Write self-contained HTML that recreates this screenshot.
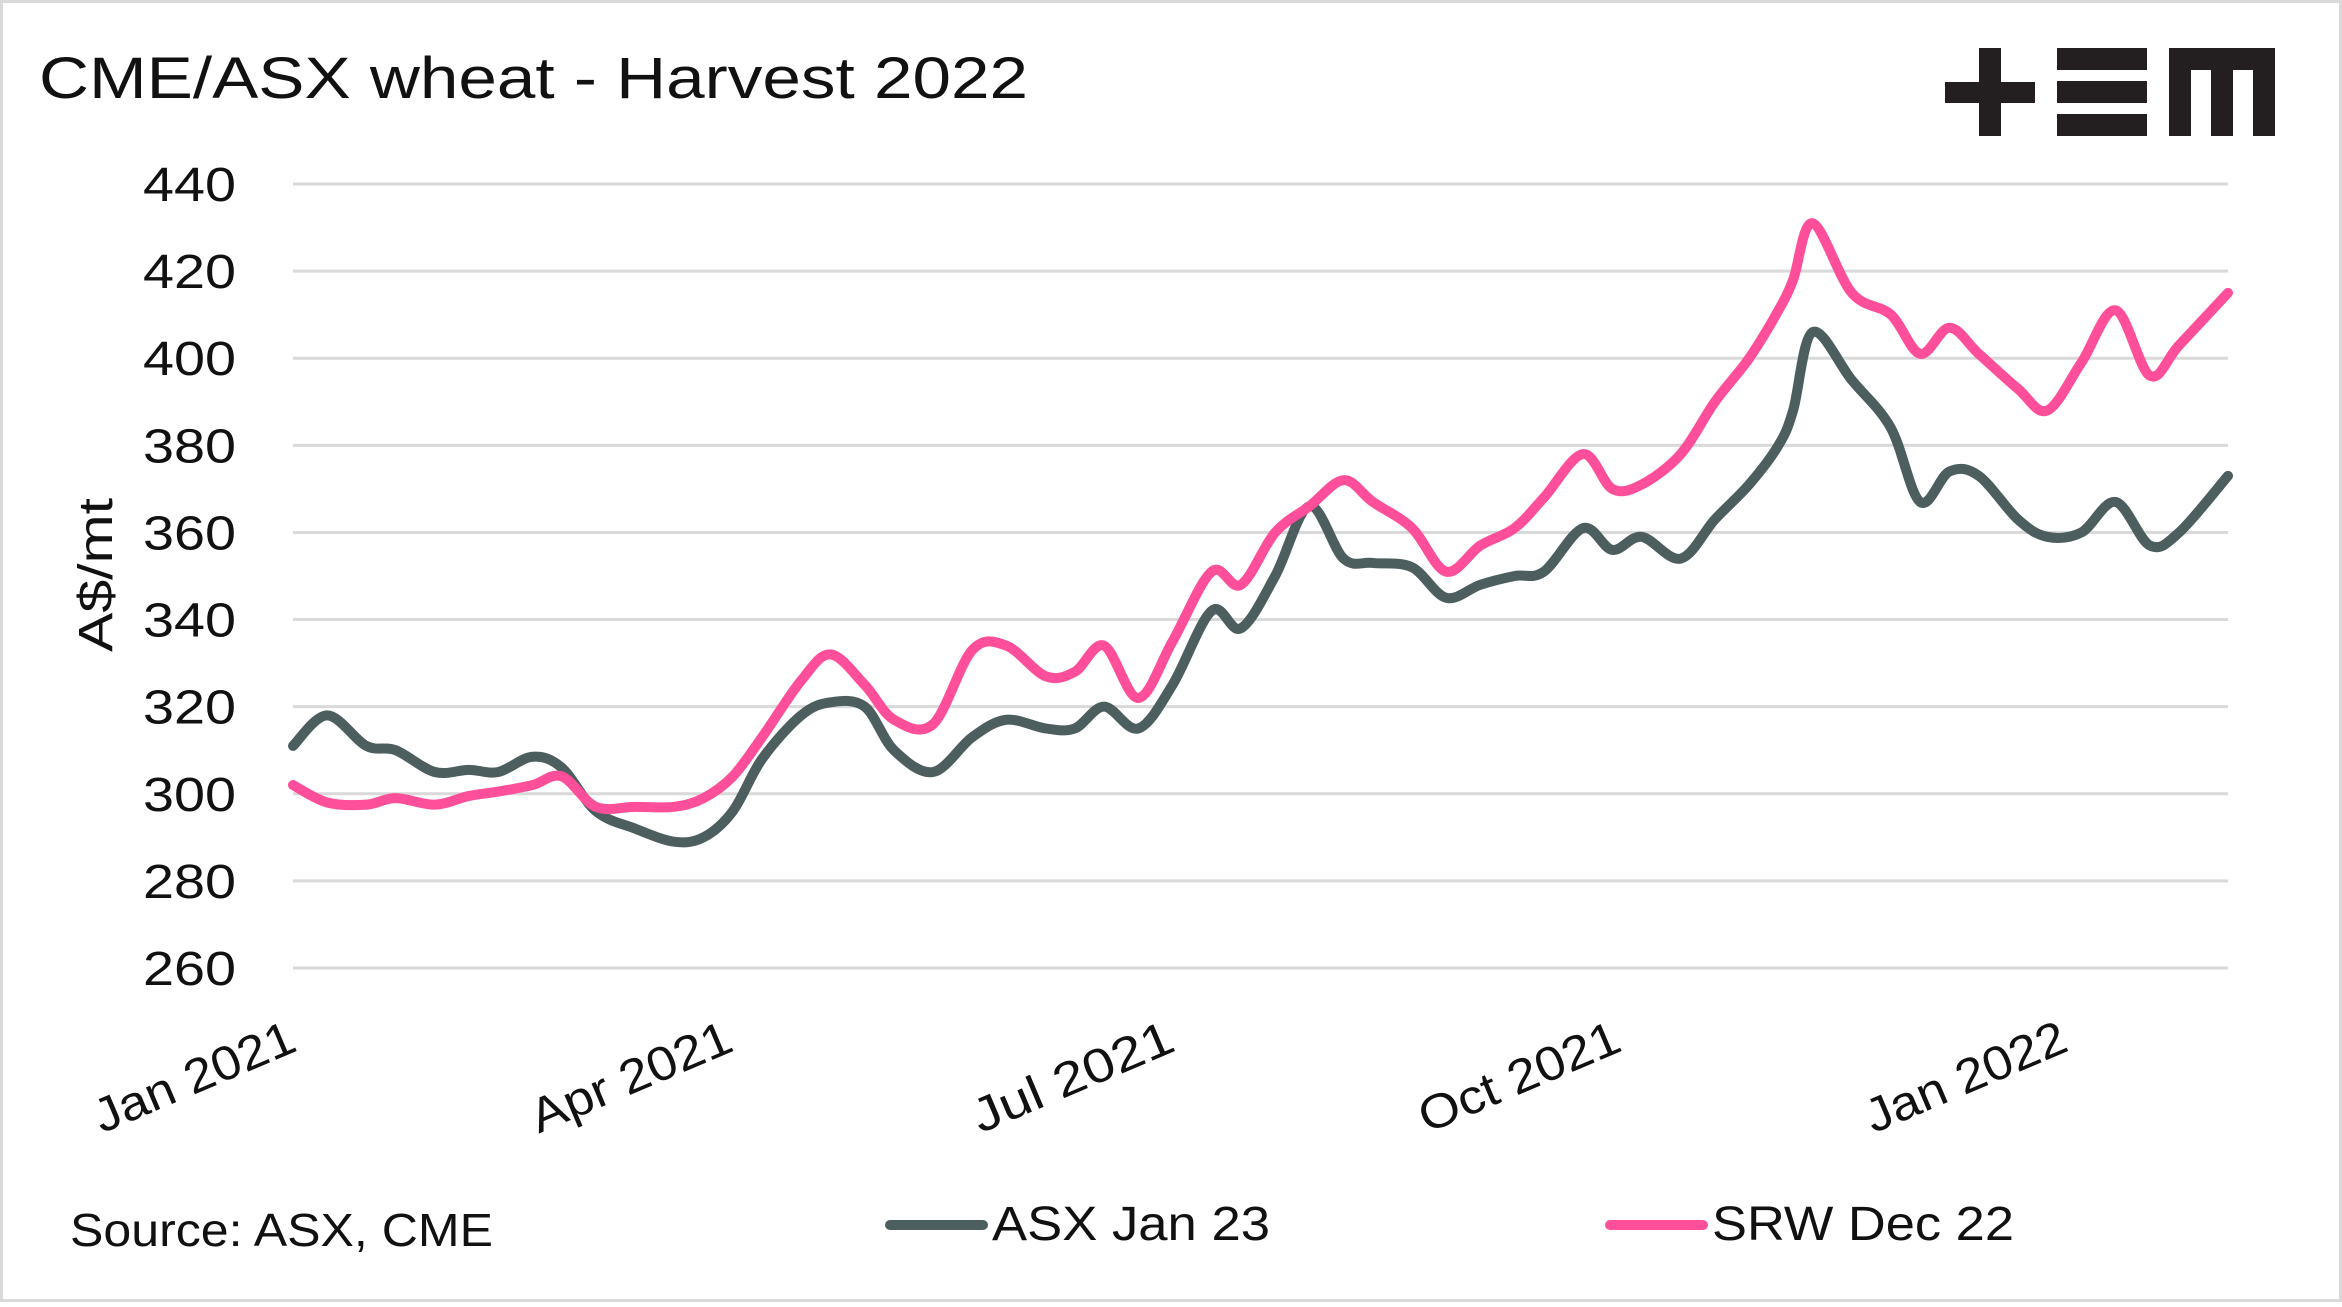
<!DOCTYPE html>
<html><head><meta charset="utf-8"><style>
body{margin:0;background:#fff;}
svg text{font-family:"Liberation Sans",sans-serif;fill:#111;}
</style></head><body>
<svg width="2342" height="1302" viewBox="0 0 2342 1302" id="chart">
<rect x="1.5" y="1.5" width="2339" height="1299" fill="#fff" stroke="#d9d9d9" stroke-width="3"/>
<text x="39" y="98" font-size="58" textLength="989" lengthAdjust="spacingAndGlyphs">CME/ASX wheat - Harvest 2022</text>
<g fill="#231f20">
<rect x="1945" y="82" width="90" height="21"/><rect x="1979" y="48" width="22" height="88"/>
<rect x="2057" y="48" width="90" height="22"/><rect x="2057" y="81" width="90" height="22"/><rect x="2057" y="114" width="90" height="22"/>
<rect x="2169" y="48" width="106" height="22"/><rect x="2169" y="48" width="22" height="88"/><rect x="2211" y="48" width="22" height="88"/><rect x="2253" y="48" width="22" height="88"/>
</g>
<g id="grid"></g><g id="yticks"></g><g id="xticks"></g><g id="series"></g>
<text transform="translate(112,575) rotate(-90)" text-anchor="middle" font-size="48" textLength="154" lengthAdjust="spacingAndGlyphs">A$/mt</text>
<text x="70" y="1246" font-size="46" textLength="423" lengthAdjust="spacingAndGlyphs">Source: ASX, CME</text>
<line x1="890" y1="1225" x2="983" y2="1225" stroke="#4d5e5e" stroke-width="10" stroke-linecap="round"/>
<text x="992" y="1240" font-size="48" textLength="278" lengthAdjust="spacingAndGlyphs">ASX Jan 23</text>
<line x1="1610" y1="1225" x2="1703" y2="1225" stroke="#ff4f9a" stroke-width="10" stroke-linecap="round"/>
<text x="1712" y="1240" font-size="48" textLength="302" lengthAdjust="spacingAndGlyphs">SRW Dec 22</text>
</svg>
<script>
const days=[0,7,15,21,29,36,42,49,55,62,70,78,84,90,96,104,110,117,123,131,139,146,154,160,166,173,180,188,194,201,208,215,221,229,236,243,250,256,264,270,276,284,291,298,304,307,311,319,327,333,339,345,353,359,366,373,380,386,396];
const asx=[311,318,311,310,305,305.5,305,308.5,306,296,292,289,290,296,308,318,321,320,310,305,313,317,315,315,320,315,325,342,338,350,366,354,353,352,345,348,350,351,361,356,359,354,363,371,380,388,406,395,384,367,374,373,363,359,360,367,357,360,373];
const srw=[302,298,297.5,299,297.5,299.5,300.5,302,304,297,297,297,299,304,313,326,332,325,317,316,333,334,327,328,334,322,335,351,348,360,366,372,367,361,351,357,361,368,378,370,371,378,390,400,411,418,431,415,410,401,407,401,393,388,399,411,396,403,415];
const yTicks=[260,280,300,320,340,360,380,400,420,440];
const xTickDays=[0,90,181,273,365];
const xTickLabels=["Jan 2021","Apr 2021","Jul 2021","Oct 2021","Jan 2022"];
const NS="http://www.w3.org/2000/svg";
const X0=293,X1=2228,D1=396,Y0=968,Y1=184,V0=260,V1=440;
const xs=d=>X0+(d/D1)*(X1-X0);
const ys=v=>Y0+(v-V0)/(V1-V0)*(Y1-Y0);
function mk(tag,attrs,parent){const e=document.createElementNS(NS,tag);for(const k in attrs)e.setAttribute(k,attrs[k]);parent.appendChild(e);return e;}
const grid=document.getElementById('grid'),yt=document.getElementById('yticks'),xt=document.getElementById('xticks'),ser=document.getElementById('series');
yTicks.forEach(v=>{
 const l=mk('line',{x1:X0,x2:X1,y1:ys(v),y2:ys(v),stroke:'#d9d9d9','stroke-width':3},grid);
 
 
 const t=mk('text',{x:236,y:ys(v)+17,'text-anchor':'end','font-size':48,textLength:93,lengthAdjust:'spacingAndGlyphs'},yt);
 t.textContent=v;
 
 
});
xTickDays.forEach((d,i)=>{
 const x=xs(d)+6-i*3;
 const t=mk('text',{'text-anchor':'end','font-size':48,textLength:214,lengthAdjust:'spacingAndGlyphs',transform:'translate('+x+',1050) rotate(-23)'},xt);
 t.textContent=xTickLabels[i];
 
 
});
function path(vals){
 const p=vals.map((v,i)=>[xs(days[i]),ys(v)]);
 let d='M'+p[0][0]+','+p[0][1];
 for(let i=0;i<p.length-1;i++){
  const a=p[Math.max(i-1,0)],b=p[i],c=p[i+1],e=p[Math.min(i+2,p.length-1)];
  const c1=[b[0]+(c[0]-a[0])/6,b[1]+(c[1]-a[1])/6],c2=[c[0]-(e[0]-b[0])/6,c[1]-(e[1]-b[1])/6];
  d+=' C'+c1[0]+','+c1[1]+' '+c2[0]+','+c2[1]+' '+c[0]+','+c[1];
 }
 return d;
}
const a=mk('path',{d:path(asx),fill:'none',stroke:'#4d5e5e','stroke-width':10,'stroke-linejoin':'round','stroke-linecap':'round'},ser);


const s=mk('path',{d:path(srw),fill:'none',stroke:'#ff4f9a','stroke-width':10,'stroke-linejoin':'round','stroke-linecap':'round'},ser);


</script>
</body></html>
